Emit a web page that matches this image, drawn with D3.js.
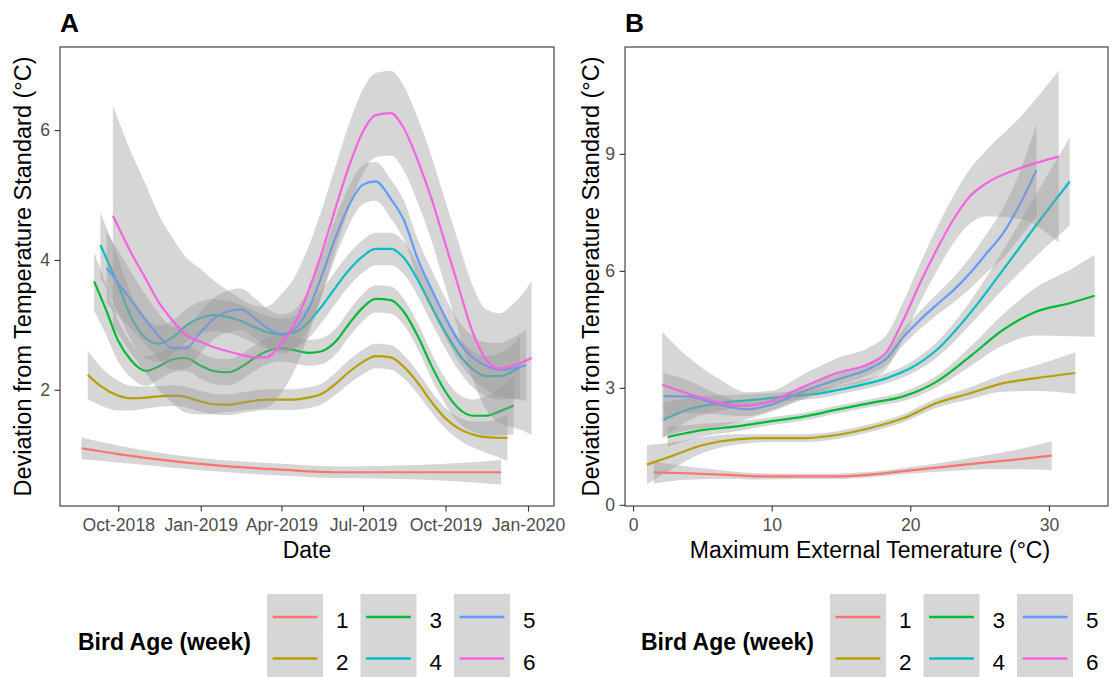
<!DOCTYPE html>
<html>
<head>
<meta charset="utf-8">
<script src="https://cdn.jsdelivr.net/npm/d3@7"></script>
<style>
  html, body { margin: 0; padding: 0; background: #ffffff; }
  svg { display: block; font-family: "Liberation Sans", Arial, Helvetica, sans-serif; }
</style>
</head>
<body>
<svg id="chart" width="1120" height="677"></svg>
<script>
// ---- categories and tick labels ----
const ageWeeks = ["1", "2", "3", "4", "5", "6"];
const dateTicks = ["2018-10-01", "2019-01-01", "2019-04-01", "2019-07-01", "2019-10-01", "2020-01-01"];
const tempTicks = [0, 10, 20, 30];
const deviationTicksA = [2, 4, 6];
const deviationTicksB = [0, 3, 6, 9];

// ---- panel A: smoothed deviation by date, [date, fit, half-width of CI] ----
const byDateWeek1 = [
  ["2018-08-21", 1.10, 0.17], ["2018-10-01", 1.01, 0.13], ["2018-12-01", 0.90, 0.10],
  ["2019-02-01", 0.82, 0.09], ["2019-04-01", 0.77, 0.09], ["2019-06-01", 0.73, 0.09],
  ["2019-08-01", 0.73, 0.10], ["2019-10-01", 0.73, 0.13], ["2019-12-02", 0.73, 0.19]
];
const byDateWeek2 = [
  ["2018-08-28", 2.23, 0.37], ["2018-09-11", 2.06, 0.30], ["2018-10-01", 1.91, 0.23],
  ["2018-10-15", 1.87, 0.19], ["2018-11-01", 1.88, 0.17], ["2018-11-15", 1.90, 0.16],
  ["2018-12-01", 1.91, 0.16], ["2018-12-15", 1.89, 0.16], ["2019-01-01", 1.82, 0.16],
  ["2019-01-15", 1.78, 0.16], ["2019-02-01", 1.77, 0.16], ["2019-02-15", 1.80, 0.16],
  ["2019-03-01", 1.83, 0.16], ["2019-03-15", 1.85, 0.16], ["2019-04-01", 1.85, 0.16],
  ["2019-04-15", 1.85, 0.16], ["2019-05-01", 1.88, 0.16], ["2019-05-15", 1.93, 0.16],
  ["2019-06-01", 2.10, 0.17], ["2019-06-15", 2.27, 0.18], ["2019-07-01", 2.43, 0.19],
  ["2019-07-15", 2.52, 0.19], ["2019-08-01", 2.50, 0.19], ["2019-08-15", 2.36, 0.18],
  ["2019-09-01", 2.09, 0.17], ["2019-09-15", 1.82, 0.16], ["2019-10-01", 1.56, 0.16],
  ["2019-10-15", 1.41, 0.17], ["2019-11-01", 1.31, 0.20], ["2019-11-15", 1.27, 0.24],
  ["2019-12-01", 1.26, 0.31], ["2019-12-09", 1.26, 0.36]
];
const byDateWeek3 = [
  ["2018-09-04", 3.67, 0.45], ["2018-09-18", 3.21, 0.38], ["2018-10-01", 2.75, 0.32],
  ["2018-10-15", 2.46, 0.27], ["2018-11-01", 2.29, 0.23], ["2018-11-15", 2.36, 0.21],
  ["2018-12-01", 2.47, 0.20], ["2018-12-15", 2.49, 0.20], ["2019-01-01", 2.37, 0.20],
  ["2019-01-15", 2.29, 0.20], ["2019-02-01", 2.27, 0.20], ["2019-02-15", 2.35, 0.20],
  ["2019-03-01", 2.48, 0.20], ["2019-03-15", 2.59, 0.20], ["2019-04-01", 2.64, 0.20],
  ["2019-04-15", 2.61, 0.20], ["2019-05-01", 2.57, 0.20], ["2019-05-15", 2.59, 0.20],
  ["2019-06-01", 2.75, 0.20], ["2019-06-15", 3.01, 0.20], ["2019-07-01", 3.27, 0.21],
  ["2019-07-15", 3.40, 0.21], ["2019-08-01", 3.38, 0.21], ["2019-08-15", 3.21, 0.20],
  ["2019-09-01", 2.80, 0.20], ["2019-09-15", 2.38, 0.20], ["2019-10-01", 1.97, 0.20],
  ["2019-10-15", 1.72, 0.22], ["2019-11-01", 1.60, 0.25], ["2019-11-15", 1.60, 0.30],
  ["2019-12-01", 1.67, 0.37], ["2019-12-16", 1.76, 0.45]
];
const byDateWeek4 = [
  ["2018-09-11", 4.23, 0.50], ["2018-10-01", 3.61, 0.42], ["2018-10-15", 3.13, 0.36],
  ["2018-11-01", 2.79, 0.31], ["2018-11-15", 2.71, 0.28], ["2018-12-01", 2.81, 0.26],
  ["2018-12-15", 2.98, 0.25], ["2019-01-01", 3.11, 0.25], ["2019-01-15", 3.15, 0.25],
  ["2019-02-01", 3.12, 0.25], ["2019-02-15", 3.06, 0.25], ["2019-03-01", 2.97, 0.25],
  ["2019-03-15", 2.89, 0.25], ["2019-04-01", 2.85, 0.25], ["2019-04-15", 2.88, 0.25],
  ["2019-05-01", 3.04, 0.25], ["2019-05-15", 3.27, 0.25], ["2019-06-01", 3.59, 0.25],
  ["2019-06-15", 3.84, 0.25], ["2019-07-01", 4.06, 0.25], ["2019-07-15", 4.17, 0.25],
  ["2019-08-01", 4.17, 0.25], ["2019-08-15", 4.04, 0.25], ["2019-09-01", 3.67, 0.25],
  ["2019-09-15", 3.29, 0.25], ["2019-10-01", 2.88, 0.25], ["2019-10-15", 2.57, 0.26],
  ["2019-11-01", 2.31, 0.28], ["2019-11-15", 2.21, 0.31], ["2019-12-01", 2.21, 0.36],
  ["2019-12-15", 2.28, 0.42], ["2019-12-23", 2.35, 0.48]
];
const byDateWeek5 = [
  ["2018-09-18", 3.88, 0.55], ["2018-10-01", 3.64, 0.50], ["2018-10-15", 3.38, 0.44],
  ["2018-11-01", 3.07, 0.38], ["2018-11-15", 2.83, 0.35], ["2018-12-01", 2.64, 0.33],
  ["2018-12-15", 2.64, 0.32], ["2019-01-01", 2.89, 0.32], ["2019-01-15", 3.09, 0.32],
  ["2019-02-01", 3.21, 0.32], ["2019-02-15", 3.24, 0.32], ["2019-03-01", 3.12, 0.31],
  ["2019-03-15", 2.96, 0.30], ["2019-04-01", 2.86, 0.30], ["2019-04-15", 2.93, 0.30],
  ["2019-05-01", 3.24, 0.30], ["2019-05-15", 3.72, 0.30], ["2019-06-01", 4.37, 0.30],
  ["2019-06-15", 4.83, 0.30], ["2019-07-01", 5.16, 0.30], ["2019-07-15", 5.21, 0.30],
  ["2019-08-01", 4.94, 0.30], ["2019-08-15", 4.63, 0.30], ["2019-09-01", 3.98, 0.30],
  ["2019-09-15", 3.56, 0.30], ["2019-10-01", 3.11, 0.30], ["2019-10-15", 2.76, 0.31],
  ["2019-11-01", 2.49, 0.33], ["2019-11-15", 2.37, 0.36], ["2019-12-01", 2.31, 0.41],
  ["2019-12-15", 2.33, 0.47], ["2019-12-30", 2.38, 0.55]
];
const byDateWeek6 = [
  ["2018-09-25", 4.68, 1.70], ["2018-10-01", 4.51, 1.65], ["2018-10-15", 4.12, 1.55],
  ["2018-11-01", 3.70, 1.45], ["2018-11-15", 3.35, 1.35], ["2018-12-01", 3.06, 1.27],
  ["2018-12-15", 2.85, 1.20], ["2019-01-01", 2.74, 1.12], ["2019-01-15", 2.66, 1.03],
  ["2019-02-01", 2.59, 0.93], ["2019-02-15", 2.54, 0.86], ["2019-03-01", 2.50, 0.80],
  ["2019-03-15", 2.50, 0.78], ["2019-04-01", 2.71, 0.76], ["2019-04-15", 3.00, 0.72],
  ["2019-05-01", 3.52, 0.68], ["2019-05-15", 4.07, 0.66], ["2019-06-01", 4.83, 0.65],
  ["2019-06-15", 5.43, 0.65], ["2019-07-01", 5.98, 0.65], ["2019-07-15", 6.23, 0.65],
  ["2019-08-01", 6.26, 0.65], ["2019-08-15", 6.04, 0.65], ["2019-09-01", 5.50, 0.65],
  ["2019-09-15", 4.96, 0.65], ["2019-10-01", 4.24, 0.66], ["2019-10-15", 3.61, 0.68],
  ["2019-11-01", 2.86, 0.72], ["2019-11-15", 2.47, 0.77], ["2019-12-01", 2.33, 0.85],
  ["2019-12-15", 2.37, 0.95], ["2019-12-30", 2.45, 1.10], ["2020-01-05", 2.49, 1.19]
];

// ---- panel B: smoothed deviation by max external temperature, [°C, fit, half-width] ----
const byTempWeek1 = [
  [1.5, 0.83, 0.28], [3.9, 0.81, 0.17], [6.8, 0.77, 0.10], [9.2, 0.73, 0.08],
  [11.6, 0.73, 0.07], [14.5, 0.73, 0.07], [16.9, 0.77, 0.07], [19.7, 0.87, 0.08],
  [22.6, 0.98, 0.12], [25.5, 1.09, 0.18], [27.9, 1.17, 0.26], [30.2, 1.26, 0.37]
];
const byTempWeek2 = [
  [1.0, 1.03, 0.50], [2.7, 1.24, 0.35], [5.1, 1.54, 0.20], [7.5, 1.68, 0.13],
  [9.9, 1.71, 0.10], [12.3, 1.71, 0.10], [14.7, 1.79, 0.10], [17.1, 1.97, 0.10],
  [19.5, 2.22, 0.10], [21.9, 2.61, 0.12], [24.3, 2.86, 0.15], [26.7, 3.12, 0.22],
  [29.1, 3.25, 0.33], [31.9, 3.38, 0.53]
];
const byTempWeek3 = [
  [2.5, 1.74, 0.25], [5.1, 1.92, 0.16], [7.5, 2.01, 0.12], [9.9, 2.14, 0.10],
  [12.3, 2.26, 0.10], [14.7, 2.44, 0.10], [17.1, 2.61, 0.10], [19.5, 2.78, 0.12],
  [21.9, 3.16, 0.15], [24.3, 3.80, 0.25], [26.7, 4.49, 0.40], [29.1, 4.96, 0.62],
  [31.5, 5.17, 0.85], [33.3, 5.36, 1.05]
];
const byTempWeek4 = [
  [2.2, 2.18, 0.45], [3.9, 2.44, 0.30], [6.3, 2.61, 0.20], [8.7, 2.69, 0.15],
  [11.1, 2.78, 0.12], [13.5, 2.86, 0.12], [15.9, 3.03, 0.12], [18.3, 3.25, 0.13],
  [20.0, 3.50, 0.15], [21.9, 3.97, 0.20], [24.3, 4.91, 0.30], [26.7, 6.03, 0.50],
  [29.1, 7.18, 0.80], [31.5, 8.29, 1.13]
];
const byTempWeek5 = [
  [2.2, 2.79, 0.60], [3.9, 2.78, 0.42], [6.3, 2.56, 0.25], [8.2, 2.45, 0.18],
  [9.9, 2.56, 0.15], [12.3, 2.91, 0.15], [14.7, 3.21, 0.15], [17.1, 3.50, 0.15],
  [18.3, 3.76, 0.17], [19.5, 4.30, 0.20], [20.7, 4.74, 0.23], [21.9, 5.13, 0.27],
  [23.1, 5.50, 0.32], [24.3, 5.94, 0.40], [25.5, 6.45, 0.50], [26.7, 6.97, 0.65],
  [27.9, 7.70, 0.85], [29.1, 8.59, 1.17]
];
const byTempWeek6 = [
  [2.1, 3.08, 1.36], [3.9, 2.86, 0.95], [6.3, 2.61, 0.60], [8.2, 2.54, 0.35],
  [9.9, 2.65, 0.27], [12.3, 3.03, 0.32], [14.7, 3.38, 0.38], [17.1, 3.63, 0.42],
  [18.3, 3.93, 0.44], [19.5, 4.74, 0.47], [20.7, 5.68, 0.50], [21.9, 6.54, 0.55],
  [23.1, 7.31, 0.60], [24.3, 7.91, 0.70], [25.5, 8.25, 0.85], [27.9, 8.63, 1.30],
  [30.7, 8.93, 2.20]
];

// ---- styling ----
const seriesColours = ["#F8766D", "#B79F00", "#00BA38", "#00BFC4", "#619CFF", "#F564E3"];
const ribbonFill = "rgba(153,153,153,0.4)";
const tickTextColour = "#4D4D4D";
const frameColour = "#333333";

const svg = d3.select("#chart");
const parseDate = d3.timeParse("%Y-%m-%d");

function drawPanel(cfg) {
  const { id, box, xScale, yScale, xOf, series, xTicks, xFormat, yTicks,
          tag, xTitle, xTitleX, yTitleX } = cfg;
  const g = svg.append("g").attr("class", "panel-" + id);

  g.append("clipPath").attr("id", "clip-" + id)
    .append("rect")
    .attr("x", box.left).attr("y", box.top)
    .attr("width", box.right - box.left).attr("height", box.bottom - box.top);

  const plot = g.append("g").attr("clip-path", `url(#clip-${id})`);

  const area = d3.area()
    .x(d => xScale(xOf(d)))
    .y0(d => yScale(d[1] - d[2]))
    .y1(d => yScale(d[1] + d[2]))
    .curve(d3.curveMonotoneX);
  const line = d3.line()
    .x(d => xScale(xOf(d)))
    .y(d => yScale(d[1]))
    .curve(d3.curveMonotoneX);

  // each group: confidence ribbon first, then its fitted line
  series.forEach((s, i) => {
    plot.append("path").attr("d", area(s))
      .attr("fill", ribbonFill).attr("stroke", "none");
    plot.append("path").attr("d", line(s))
      .attr("fill", "none").attr("stroke", seriesColours[i])
      .attr("stroke-width", 2.2).attr("stroke-linejoin", "round");
  });

  // panel frame
  g.append("rect")
    .attr("x", box.left).attr("y", box.top)
    .attr("width", box.right - box.left).attr("height", box.bottom - box.top)
    .attr("fill", "none").attr("stroke", frameColour).attr("stroke-width", 1.1);

  // x axis
  const xAxis = d3.axisBottom(xScale).tickValues(xTicks).tickFormat(xFormat)
    .tickSize(5.5).tickPadding(7.5);
  const gx = g.append("g").attr("transform", `translate(0,${box.bottom})`).call(xAxis);
  gx.select(".domain").remove();
  gx.selectAll(".tick line").attr("stroke", frameColour).attr("stroke-width", 1.1);
  gx.selectAll(".tick text").attr("fill", tickTextColour)
    .attr("font-size", 17.6).attr("font-family", null);

  // y axis
  const yAxis = d3.axisLeft(yScale).tickValues(yTicks).tickFormat(d3.format("d"))
    .tickSize(5.5).tickPadding(4.5);
  const gy = g.append("g").attr("transform", `translate(${box.left},0)`).call(yAxis);
  gy.select(".domain").remove();
  gy.selectAll(".tick line").attr("stroke", frameColour).attr("stroke-width", 1.1);
  gy.selectAll(".tick text").attr("fill", tickTextColour)
    .attr("font-size", 17.6).attr("font-family", null);

  // titles
  g.append("text").attr("x", xTitleX).attr("y", 558)
    .attr("text-anchor", "middle").attr("font-size", 23).attr("fill", "#000")
    .text(xTitle);
  g.append("text")
    .attr("transform", `translate(${yTitleX},${(box.top + box.bottom) / 2}) rotate(-90)`)
    .attr("text-anchor", "middle").attr("font-size", 23.5).attr("fill", "#000")
    .text("Deviation from Temperature Standard (°C)");
  g.append("text").attr("x", box.left).attr("y", 32)
    .attr("font-size", 26.4).attr("font-weight", "bold").attr("fill", "#000")
    .text(tag);
}

function drawLegend(offsetX) {
  const lg = svg.append("g").attr("transform", `translate(${offsetX},0)`);
  lg.append("text").attr("x", 78).attr("y", 650)
    .attr("font-size", 23).attr("font-weight", "bold").attr("fill", "#000")
    .text("Bird Age (week)");
  ageWeeks.forEach((w, i) => {
    const col = Math.floor(i / 2), row = i % 2;
    const kx = 267 + col * 93.5;
    const ky = 594 + row * 41.5;
    lg.append("rect").attr("x", kx).attr("y", ky)
      .attr("width", 56).attr("height", 41.5).attr("fill", ribbonFill);
    lg.append("line")
      .attr("x1", kx + 5.6).attr("x2", kx + 56 - 5.6)
      .attr("y1", ky + 23).attr("y2", ky + 23)
      .attr("stroke", seriesColours[i]).attr("stroke-width", 2.6);
    lg.append("text").attr("x", kx + 69).attr("y", ky + 34)
      .attr("font-size", 22.5).attr("fill", "#000").text(w);
  });
}

// ---- panel A: by date ----
const boxA = { left: 60, right: 554, top: 47, bottom: 506 };
const xA = d3.scaleTime()
  .domain([parseDate("2018-07-28"), parseDate("2020-01-30")])
  .range([boxA.left, boxA.right]);
const yA = d3.scaleLinear().domain([0.21, 7.28]).range([boxA.bottom, boxA.top]);

drawPanel({
  id: "a", box: boxA, xScale: xA, yScale: yA,
  xOf: d => parseDate(d[0]),
  series: [byDateWeek1, byDateWeek2, byDateWeek3, byDateWeek4, byDateWeek5, byDateWeek6],
  xTicks: dateTicks.map(parseDate), xFormat: d3.timeFormat("%b-%Y"),
  yTicks: deviationTicksA, tag: "A", xTitle: "Date", xTitleX: 307, yTitleX: 30.5
});

// ---- panel B: by maximum external temperature ----
const boxB = { left: 625, right: 1108, top: 47, bottom: 506 };
const xB = d3.scaleLinear().domain([-0.58, 34.26]).range([boxB.left, boxB.right]);
const yB = d3.scaleLinear().domain([-0.03, 11.74]).range([boxB.bottom, boxB.top]);

drawPanel({
  id: "b", box: boxB, xScale: xB, yScale: yB,
  xOf: d => d[0],
  series: [byTempWeek1, byTempWeek2, byTempWeek3, byTempWeek4, byTempWeek5, byTempWeek6],
  xTicks: tempTicks, xFormat: d3.format("d"),
  yTicks: deviationTicksB, tag: "B", xTitle: "Maximum External Temerature (°C)",
  xTitleX: 870, yTitleX: 599
});

drawLegend(0);
drawLegend(563);
</script>
</body>
</html>
